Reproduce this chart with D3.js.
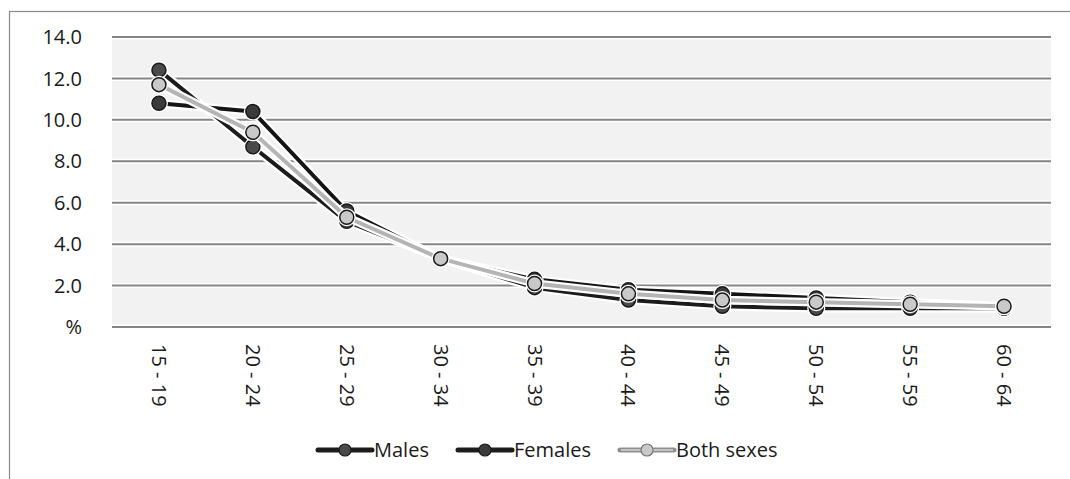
<!DOCTYPE html>
<html>
<head>
<meta charset="utf-8">
<script src="https://cdn.jsdelivr.net/npm/d3@7"></script>
<style>
  body { margin: 0; background: #fff; }
  svg text { font-family: "Open Sans", "DejaVu Sans", sans-serif; fill: #1a1a1a; }
</style>
</head>
<body>
<script>
// age groups and rates (%)
const ageGroups = ['15 - 19','20 - 24','25 - 29','30 - 34','35 - 39','40 - 44','45 - 49','50 - 54','55 - 59','60 - 64'];
const males   = [12.4, 8.7, 5.1, 3.3, 1.9, 1.3, 1.0, 0.9, 0.9, 0.9];
const females = [10.8, 10.4, 5.6, 3.3, 2.3, 1.8, 1.6, 1.4, 1.2, 1.0];
const both    = [11.7, 9.4, 5.3, 3.3, 2.1, 1.6, 1.3, 1.2, 1.1, 1.0];
const yTicks  = [0, 2, 4, 6, 8, 10, 12, 14];

const width = 1070, height = 479;
const margin = {top: 37, bottom: 152, left: 112, right: 19};
const fontSize = 20;

const svg = d3.select('body').append('svg')
    .attr('width', width)
    .attr('height', height);

// outer frame
svg.append('rect')
    .attr('x', 9.5).attr('y', 11.5)
    .attr('width', 1080).attr('height', 500)
    .attr('fill', 'none')
    .attr('stroke', '#8a8a8a')
    .attr('stroke-width', 1.2);

const x = d3.scaleBand()
    .domain(ageGroups)
    .range([margin.left, width - margin.right]);

const y = d3.scaleLinear()
    .domain([0, 14])
    .range([height - margin.bottom, margin.top]);

// plot background
svg.append('rect')
    .attr('x', margin.left).attr('y', margin.top)
    .attr('width', width - margin.left - margin.right)
    .attr('height', height - margin.top - margin.bottom)
    .attr('fill', '#f1f2f1');

// gridlines with white halo
const grid = svg.append('g');
grid.selectAll('line.halo').data(yTicks).join('line')
    .attr('class', 'halo')
    .attr('x1', margin.left).attr('x2', width - margin.right)
    .attr('y1', d => y(d)).attr('y2', d => y(d))
    .attr('stroke', '#fff').attr('stroke-width', 5);
grid.selectAll('line.gl').data(yTicks).join('line')
    .attr('class', 'gl')
    .attr('x1', margin.left).attr('x2', width - margin.right)
    .attr('y1', d => y(d)).attr('y2', d => y(d))
    .attr('stroke', '#858585').attr('stroke-width', 2);

// y axis labels
const yAxis = d3.axisLeft(y)
    .tickValues(yTicks)
    .tickSize(0)
    .tickPadding(0)
    .tickFormat(d => d === 0 ? '%' : d.toFixed(1));
svg.append('g')
    .attr('transform', `translate(${margin.left - 30},0)`)
    .call(yAxis)
    .call(g => g.select('.domain').remove())
    .selectAll('text')
    .attr('font-size', fontSize)
    .attr('dy', '0.33em')
    .style('font-family', '"Open Sans", sans-serif');

// x axis labels, rotated
const xAxis = d3.axisBottom(x).tickSize(0).tickPadding(0);
const xg = svg.append('g')
    .attr('transform', `translate(0,${height - margin.bottom})`)
    .call(xAxis);
xg.select('.domain').remove();
xg.selectAll('text')
    .attr('font-size', fontSize)
    .attr('transform', 'rotate(90)')
    .attr('x', 17).attr('y', 0)
    .attr('dy', '0.35em')
    .attr('text-anchor', 'start')
    .style('font-family', '"Open Sans", sans-serif');

const series = [
  {name: 'Males', values: males, line: '#1c1c1c', fill: '#4a4a4a'},
  {name: 'Females', values: females, line: '#141414', fill: '#3a3a3a'},
  {name: 'Both sexes', values: both, line: '#b4b4b4', fill: '#c9c9c9'}
];

const lineGen = d3.line()
    .x((d, i) => x(ageGroups[i]) + x.bandwidth() / 2)
    .y(d => y(d));

series.forEach(s => {
  const g = svg.append('g');
  g.append('path').datum(s.values)
      .attr('d', lineGen)
      .attr('fill', 'none')
      .attr('stroke', '#fff')
      .attr('stroke-width', 8.5)
      .attr('stroke-linejoin', 'round');
  g.append('path').datum(s.values)
      .attr('d', lineGen)
      .attr('fill', 'none')
      .attr('stroke', s.line)
      .attr('stroke-width', 4)
      .attr('stroke-linejoin', 'round');
  g.selectAll('circle.halo').data(s.values).join('circle')
      .attr('class', 'halo')
      .attr('cx', (d, i) => x(ageGroups[i]) + x.bandwidth() / 2)
      .attr('cy', d => y(d))
      .attr('r', 9)
      .attr('fill', '#fff');
  g.selectAll('circle.pt').data(s.values).join('circle')
      .attr('class', 'pt')
      .attr('cx', (d, i) => x(ageGroups[i]) + x.bandwidth() / 2)
      .attr('cy', d => y(d))
      .attr('r', 7)
      .attr('fill', s.fill)
      .attr('stroke', '#1a1a1a')
      .attr('stroke-width', 1.5);
});

// legend
const legendX = [318, 458, 620];
const legend = svg.append('g');
series.forEach((s, i) => {
  const lg = legend.append('g').attr('transform', `translate(${legendX[i]},450)`);
  lg.append('line')
      .attr('x1', 0).attr('x2', 54).attr('y1', 0).attr('y2', 0)
      .attr('stroke', i === 2 ? '#8f8f8f' : '#1c1c1c')
      .attr('stroke-width', 5)
      .attr('stroke-linecap', 'round');
  if (i === 2) {
    lg.append('line')
        .attr('x1', 1).attr('x2', 53).attr('y1', 0).attr('y2', 0)
        .attr('stroke', '#c4c4c4').attr('stroke-width', 2);
  }
  lg.append('circle')
      .attr('cx', 27).attr('cy', 0).attr('r', 6)
      .attr('fill', s.fill)
      .attr('stroke', i === 2 ? '#777' : '#1a1a1a')
      .attr('stroke-width', 1.2);
  lg.append('text')
      .attr('x', 56).attr('y', 0)
      .attr('dy', '0.36em')
      .attr('font-size', fontSize)
      .text(s.name);
});
</script>
</body>
</html>
